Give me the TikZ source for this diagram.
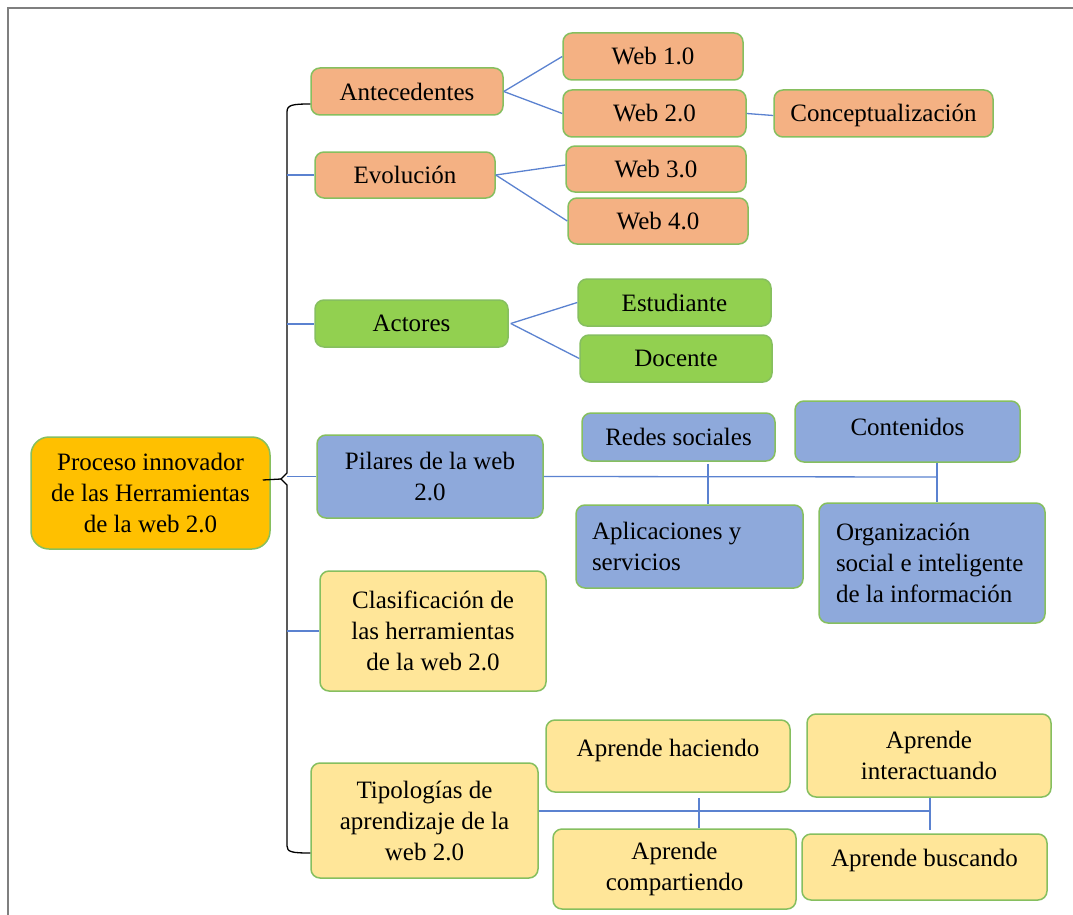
\documentclass[tikz,border=0pt]{standalone}
\usepackage{fontspec}
\setmainfont{Liberation Serif}
\definecolor{bord}{HTML}{86BF5F}
\definecolor{salmon}{HTML}{F4B183}
\definecolor{lgreen}{HTML}{92D050}
\definecolor{lblue}{HTML}{8EA9DB}
\definecolor{lyell}{HTML}{FFE699}
\definecolor{gold}{HTML}{FFC000}
\definecolor{conn}{HTML}{5B82D0}
\definecolor{frame}{HTML}{7F7F7F}
\begin{document}
\begin{tikzpicture}[x=1pt,y=-1pt,
  box/.style={draw=bord, line width=1.5pt, rounded corners=9pt, inner sep=0pt, align=center,
    font=\fontsize{25}{31}\selectfont},
  txt/.style={inner sep=0pt, align=center, font=\fontsize{25}{31}\selectfont},
  sal/.style={box, fill=salmon},
  grn/.style={box, fill=lgreen},
  blu/.style={box, fill=lblue},
  yel/.style={box, fill=lyell},
  cline/.style={draw=conn, line width=1.3pt},
  brace/.style={draw=black, line width=1.3pt}]
\useasboundingbox (0,0) rectangle (1073,915);
\draw[frame, line width=1.5pt] (8,915) -- (8,8) -- (1073,8);

% main
\node[box, fill=gold, rounded corners=18pt, minimum width=239pt, minimum height=112pt] (main) at (150.5,493)
  {Proceso innovador\\de las Herramientas\\de la web 2.0};

% salmon group
\node[sal, minimum width=192pt, minimum height=47pt] (ant) at (407,91.5) {Antecedentes};
\node[sal, minimum width=180pt, minimum height=47pt] (w1) at (653,56.5) {Web 1.0};
\node[sal, minimum width=183pt, minimum height=47pt] (w2) at (654.5,113.5) {Web 2.0};
\node[sal, minimum width=219pt, minimum height=47pt] (con) at (883.5,113.5) {};
\node[txt] (cont2) at ([yshift=-2pt]con.center) {Conceptualización};
\node[sal, minimum width=180pt, minimum height=46pt] (evo) at (405,175) {Evolución};
\node[sal, minimum width=180pt, minimum height=46pt] (w3) at (656,169) {Web 3.0};
\node[sal, minimum width=180pt, minimum height=46pt] (w4) at (658,221) {Web 4.0};

% green group
\node[grn, minimum width=193pt, minimum height=47pt] (act) at (411.5,323.5) {Actores};
\node[grn, minimum width=193pt, minimum height=47pt] (est) at (674.5,302.5) {Estudiante};
\node[grn, minimum width=192pt, minimum height=47pt] (doc) at (676,358.5) {Docente};

% blue group
\node[blu, minimum width=226pt, minimum height=83pt] (pil) at (430,476.5) {Pilares de la web\\2.0};
\node[blu, minimum width=193pt, minimum height=48pt] (red) at (678.5,437) {Redes sociales};
\node[blu, minimum width=225pt, minimum height=61pt] (cont) at (907.5,431.5) {};
\node[txt] (contt) at ([yshift=4.5pt]cont.center) {Contenidos};
\node[blu, minimum width=227pt, minimum height=83pt, text width=195pt, align=flush left] (apl) at (689.5,546.5)
  {Aplicaciones y\\servicios};
\node[blu, minimum width=226pt, minimum height=120pt, text width=192pt, align=flush left] (org) at (932,563)
  {Organización\\social e inteligente\\de la información};

% yellow group
\node[yel, minimum width=226pt, minimum height=120pt] (cla) at (433,631)
  {Clasificación de\\las herramientas\\de la web 2.0};
\node[yel, minimum width=227pt, minimum height=115pt] (tip) at (424.5,820.5)
  {Tipologías de\\aprendizaje de la\\web 2.0};
\node[yel, minimum width=244pt, minimum height=72pt] (hac) at (668,756) {};
\node[txt] (hact) at ([yshift=6pt]hac.center) {Aprende haciendo};
\node[yel, minimum width=244pt, minimum height=83pt] (int) at (929,755.5) {Aprende\\interactuando};
\node[yel, minimum width=243pt, minimum height=80pt] (comp) at (674.5,869) {Aprende\\compartiendo};
\node[yel, minimum width=245pt, minimum height=66pt] (bus) at (924.5,867) {};
\node[txt] (bust) at ([yshift=7pt]bus.center) {Aprende buscando};

% bracket
\coordinate (bx) at (287,0);
\coordinate (btip) at (281,479);
\draw[brace] ([yshift=-12.5pt]ant.west) .. controls (292,104) and (287,105) .. (287,112)
  -- (287,473) -- (btip) -- (287,485) -- (287,846)
  .. controls (287,852) and (292,853) .. ([yshift=-32.5pt]tip.west);
\draw[brace] ([xshift=-8pt,yshift=13pt]main.east) -- (btip);

% blue connectors from bracket
\draw[cline] (evo.west -| bx) -- (evo.west);
\draw[cline] ([yshift=-0.5pt]act.west -| bx) -- ([yshift=-0.5pt]act.west);
\draw[cline] (pil.west -| bx) -- (pil.west);
\draw[cline] (cla.west -| bx) -- (cla.west);

% fan-outs
\draw[cline] (ant.east) -- (w1.west);
\draw[cline] (ant.east) -- (w2.west);
\draw[cline] (w2.east) -- ([yshift=-2pt]con.west);
\draw[cline] (evo.east) -- ([yshift=4pt]w3.west);
\draw[cline] (evo.east) -- (w4.west);
\draw[cline] ([xshift=2pt]act.east) -- (est.west);
\draw[cline] ([xshift=2pt]act.east) -- (doc.west);

% pilares tree
\coordinate (j1) at (708,477);
\coordinate (j2) at (937,477);
\draw[cline] (pil.east) -- (j2);
\draw[cline] ([yshift=-2pt]j1 |- red.south) -- (j1 |- apl.north);
\draw[cline] (j2 |- cont.south) -- (j2 |- org.north);

% tipologias tree
\coordinate (k1) at (699,811);
\coordinate (k2) at (930,811);
\draw[cline] ([yshift=9.5pt]tip.east) -- (k2);
\draw[cline] ([yshift=-5pt]k1 |- hac.south) -- (k1 |- comp.north);
\draw[cline] (k2 |- int.south) -- ([yshift=3pt]k2 |- bus.north);
\end{tikzpicture}
\end{document}
